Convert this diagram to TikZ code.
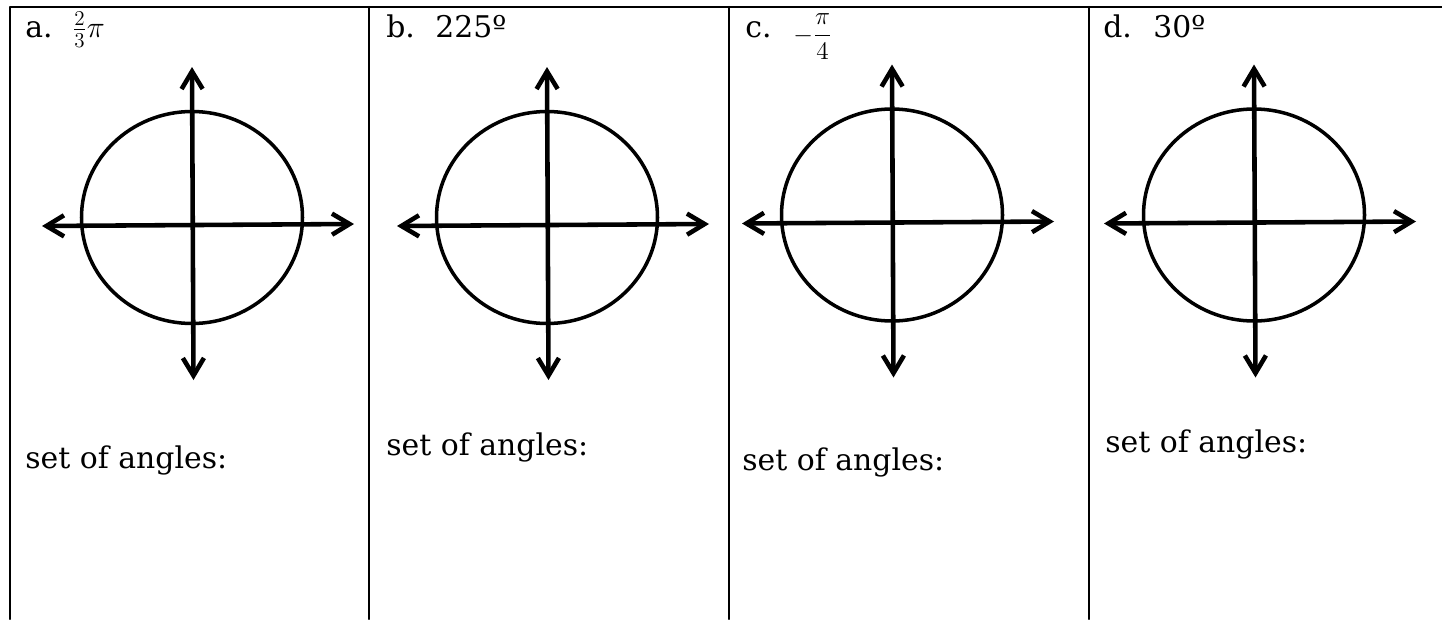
\documentclass[tikz,border=0pt]{standalone}
\usepackage{fontspec}
\setmainfont{DejaVu Serif}
\usetikzlibrary{arrows.meta}
\begin{document}
\begin{tikzpicture}[x=0.02cm,y=-0.02cm,line join=round,line cap=round,
	axis/.style={line width=2.6pt,{Straight Barb[length=10pt,width=12pt]}-{Straight Barb[length=10pt,width=12pt]}},
	ring/.style={line width=2pt},
	rule/.style={line width=1.4pt},
	lab/.style={anchor=base west,inner sep=0pt,font=\fontsize{17}{20}\selectfont},
	ans/.style={anchor=base west,inner sep=0pt,font=\fontsize{17}{20}\selectfont}]
		\useasboundingbox (0,0) rectangle (1442,619);
		% table lines
		\draw[rule] (1442,7) -- (10,7) -- (10,619);
		\foreach \x in {369,729,1089} \draw[rule] (\x,7) -- (\x,619);
		% axes and circles
		\foreach \n/\ox/\oy in {a/192/225,b/547/225,c/892/222.5,d/1254/222.5}{
			\coordinate (O\n) at (\ox,\oy);
			\coordinate (W\n) at (\ox-150,\oy+1);
			\coordinate (E\n) at (\ox+162,\oy-1);
			\coordinate (N\n) at (\ox,\oy-158);
			\coordinate (S\n) at (\ox+1.5,\oy+155);
			\draw[ring] (\ox,\oy-7.5) ellipse [x radius=110.5,y radius=106];
			\draw[axis] (W\n) -- (E\n);
			\draw[axis] (N\n) -- (S\n);
		}
		% labels
		\node[lab] (la) at (25,37) {a.};
		\node[lab] (va) at (72,37) {$\frac{2}{3}\pi$};
		\node[lab] (lb) at (386,37) {b.};
		\node[lab] (vb) at (435,37) {225º};
		\node[lab] (lc) at (745,37) {c.};
		\node[lab,font=\fontsize{14}{16}\selectfont] (vc) at (793,42) {$\displaystyle -\frac{\pi}{4}$};
		\node[lab] (ld) at (1103,37) {d.};
		\node[lab] (vd) at (1153,37) {30º};
		\node[ans] (sa) at (25,468) {set of angles:};
		\node[ans] (sb) at (386,455) {set of angles:};
		\node[ans] (sc) at (742,470) {set of angles:};
		\node[ans] (sd) at (1105,452) {set of angles:};
	\end{tikzpicture}
\end{document}
